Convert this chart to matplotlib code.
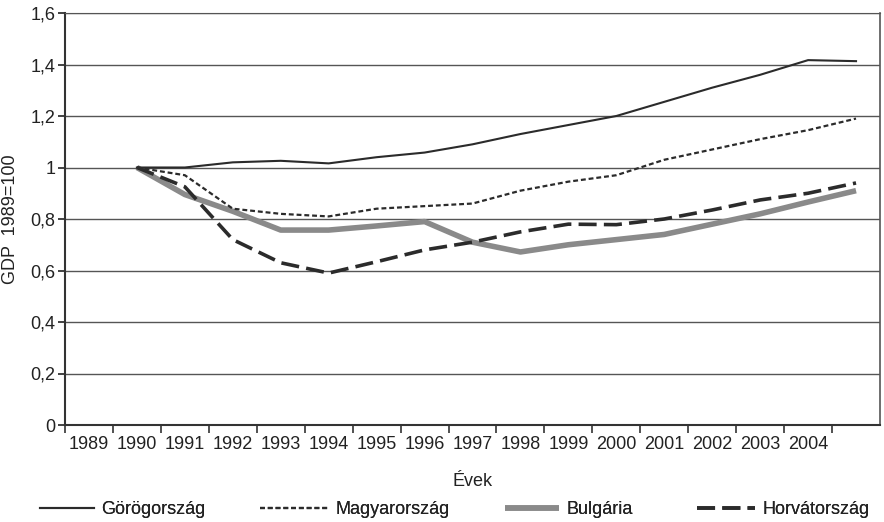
import matplotlib.pyplot as plt
from matplotlib.ticker import FixedLocator, FuncFormatter

plt.rcParams['font.family'] = ['Liberation Sans', 'DejaVu Sans']

years = ["1989", "1990", "1991", "1992", "1993", "1994", "1995", "1996",
         "1997", "1998", "1999", "2000", "2001", "2002", "2003", "2004", ""]
# adatpontok a 2. kategóriától (1990) az utolsóig
greece = [1.00, 1.00, 1.02, 1.026, 1.016, 1.04, 1.058, 1.09, 1.13, 1.165,
          1.20, 1.255, 1.31, 1.36, 1.417, 1.413]
hungary = [1.00, 0.97, 0.84, 0.82, 0.81, 0.84, 0.85, 0.86, 0.91, 0.945,
           0.97, 1.03, 1.07, 1.11, 1.145, 1.19]
bulgaria = [1.00, 0.895, 0.83, 0.757, 0.757, 0.773, 0.79, 0.71, 0.672, 0.70,
            0.72, 0.74, 0.78, 0.82, 0.866, 0.91]
croatia = [1.00, 0.925, 0.72, 0.63, 0.59, 0.634, 0.68, 0.71, 0.75, 0.78,
           0.778, 0.80, 0.835, 0.874, 0.90, 0.94]

x = list(range(1, len(years)))
FS = 13
TXT = "#222222"

fig = plt.figure(figsize=(8.84, 5.22), dpi=100, facecolor="white")
ax = fig.add_axes([65 / 884, 1 - 425 / 522, 815 / 884, 412 / 522])

l1, = ax.plot(x, greece, color="#2b2b2b", lw=1.5, zorder=4)
l2, = ax.plot(x, hungary, color="#2b2b2b", lw=1.6, linestyle=(0, (2.2, 1.3)), zorder=4)
l3, = ax.plot(x, bulgaria, color="#8a8a8a", lw=4, zorder=3, solid_capstyle="butt")
l4, = ax.plot(x, croatia, color="#2b2b2b", lw=2.6, linestyle=(0, (5, 2)), zorder=5)

ax.set_xlim(-0.5, len(years) - 0.5)
ax.set_ylim(0, 1.6)
ax.set_yticks([0, 0.2, 0.4, 0.6, 0.8, 1.0, 1.2, 1.4, 1.6])
ax.yaxis.set_major_formatter(FuncFormatter(
    lambda v, p: "0" if v == 0 else ("1" if abs(v - 1) < 1e-9 else f"{v:.1f}".replace(".", ","))))
ax.yaxis.grid(True, color="#555555", lw=1.0)
ax.set_axisbelow(True)

ax.set_xticks(range(len(years)))
ax.set_xticklabels(years)
ax.xaxis.set_minor_locator(FixedLocator([i - 0.5 for i in range(len(years))]))
ax.tick_params(axis="x", which="major", length=0, labelsize=FS, pad=8, colors=TXT)
ax.tick_params(axis="x", which="minor", length=6, width=1.2, color="#333333")
ax.tick_params(axis="y", which="major", length=5, width=1.2, labelsize=FS, pad=2, colors=TXT)

for side in ["left", "bottom"]:
    ax.spines[side].set_color("#333333")
    ax.spines[side].set_linewidth(1.5)
ax.spines["top"].set_color("#555555")
ax.spines["right"].set_color("#555555")
ax.spines["right"].set_linewidth(1.2)

ax.set_xlabel("Évek", fontsize=FS, color=TXT, labelpad=14)
ax.set_ylabel("GDP  1989=100", fontsize=FS, color=TXT, labelpad=8)

# jelmagyarázat: négy külön elem, a referencia szerinti helyeken
entries = [(l1, "Görögország", 40, 3.0), (l2, "Magyarország", 260, 3.8),
           (l3, "Bulgária", 505, 3.0), (l4, "Horvátország", 697, 3.2)]
for h, lab, px, hl in entries:
    leg = fig.legend([h], [lab], loc="center left", bbox_to_anchor=(px / 884, 1 - 510 / 522),
                     frameon=False, fontsize=FS, handlelength=hl, handletextpad=0.4,
                     borderpad=0, borderaxespad=0, labelcolor=TXT)
    fig.add_artist(leg)

fig.savefig("out.png", dpi=100, facecolor="white")
